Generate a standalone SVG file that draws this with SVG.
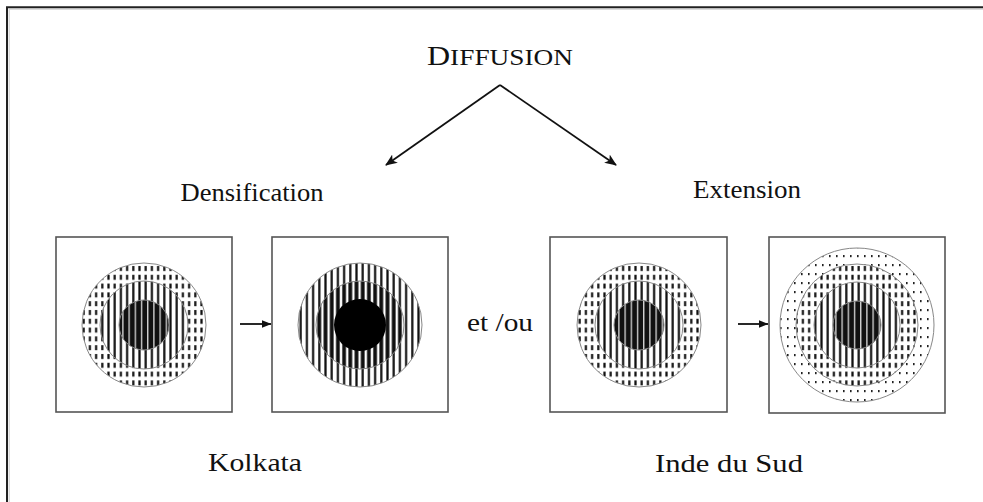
<svg xmlns="http://www.w3.org/2000/svg" width="983" height="502" viewBox="0 0 983 502">
<style>
  .lbl { font-family: "Liberation Serif", "Times New Roman", serif; fill: #111; }
  .box { fill: #fff; stroke: #555; stroke-width: 1.6; }
  .ring { stroke: #888; stroke-width: 1; }
  .conn { stroke: #111; stroke-width: 1.8; fill: none; }
</style>
<defs>
  <pattern id="dash" patternUnits="userSpaceOnUse" x="0" y="0" width="6.2" height="8.8">
    <rect width="6.2" height="8.8" fill="#fff"/>
    <rect x="2" y="2" width="2.2" height="5" fill="#111"/>
  </pattern>
  <pattern id="stripe" patternUnits="userSpaceOnUse" x="0" y="0" width="6.2" height="10">
    <rect width="6.2" height="10" fill="#fff"/>
    <rect x="2" y="0" width="2.2" height="10" fill="#111"/>
  </pattern>
  <pattern id="stripeThick" patternUnits="userSpaceOnUse" x="0" y="0" width="6.2" height="10">
    <rect width="6.2" height="10" fill="#fff"/>
    <rect x="1.2" y="0" width="3.8" height="10" fill="#111"/>
  </pattern>
  <pattern id="blackStripe" patternUnits="userSpaceOnUse" x="0" y="0" width="6.2" height="10">
    <rect width="6.2" height="10" fill="#111"/>
    <rect x="4.6" y="0" width="1.1" height="10" fill="#fff"/>
  </pattern>
  <pattern id="dots" patternUnits="userSpaceOnUse" x="0" y="0" width="7" height="9">
    <rect width="7" height="9" fill="#fff"/>
    <rect x="3" y="3" width="1.6" height="2.2" fill="#222"/>
  </pattern>
  <marker id="head" viewBox="0 0 12 10" refX="11" refY="5" markerWidth="12" markerHeight="10" markerUnits="userSpaceOnUse" orient="auto">
    <path d="M0,0 L12,5 L0,10 L3,5 Z" fill="#111"/>
  </marker>
  <marker id="headS" viewBox="0 0 10 8" refX="9.5" refY="4" markerWidth="10" markerHeight="8" markerUnits="userSpaceOnUse" orient="auto">
    <path d="M0,0 L10,4 L0,8 Z" fill="#111"/>
  </marker>
</defs>

<rect width="983" height="502" fill="#fff"/>
<g id="frame">
  <path d="M9.2,502 V9.2 H983" fill="none" stroke="#ccc" stroke-width="1"/>
  <path d="M7,502 V7.3 H983" fill="none" stroke="#222" stroke-width="2"/>
</g>

<g id="title">
  <text class="lbl" x="500" y="65" font-size="27" text-anchor="middle" textLength="146" lengthAdjust="spacingAndGlyphs">D<tspan font-size="23">IFFUSION</tspan></text>
</g>

<g id="label-densification">
  <text class="lbl" x="252" y="201" font-size="25" text-anchor="middle" textLength="143" lengthAdjust="spacingAndGlyphs">Densification</text>
</g>
<g id="label-extension">
  <text class="lbl" x="747" y="198" font-size="25" text-anchor="middle" textLength="108" lengthAdjust="spacingAndGlyphs">Extension</text>
</g>
<g id="label-etou">
  <text class="lbl" x="500" y="331" font-size="25" text-anchor="middle" textLength="66" lengthAdjust="spacingAndGlyphs">et /ou</text>
</g>
<g id="label-kolkata">
  <text class="lbl" x="255" y="471" font-size="25" text-anchor="middle" textLength="94" lengthAdjust="spacingAndGlyphs">Kolkata</text>
</g>
<g id="label-inde">
  <text class="lbl" x="729" y="472" font-size="25" text-anchor="middle" textLength="148" lengthAdjust="spacingAndGlyphs">Inde du Sud</text>
</g>

<g id="box1">
  <rect class="box" x="56" y="237" width="176" height="175"/>
  <circle class="ring" cx="144" cy="325" r="62" fill="url(#dash)"/>
  <circle class="ring" cx="144" cy="325" r="44" fill="url(#stripe)"/>
  <circle class="ring" cx="144" cy="325" r="25" fill="url(#blackStripe)"/>
</g>

<g id="box2">
  <rect class="box" x="272" y="237" width="176" height="175"/>
  <circle class="ring" cx="360" cy="325" r="62" fill="url(#stripe)"/>
  <circle class="ring" cx="360" cy="325" r="44" fill="url(#stripeThick)"/>
  <circle cx="360" cy="325" r="26" fill="#000"/>
</g>

<g id="box3">
  <rect class="box" x="550" y="237" width="177" height="175"/>
  <circle class="ring" cx="639" cy="325" r="62" fill="url(#dash)"/>
  <circle class="ring" cx="639" cy="325" r="44" fill="url(#stripe)"/>
  <circle class="ring" cx="639" cy="325" r="25" fill="url(#blackStripe)"/>
</g>

<g id="box4">
  <rect class="box" x="769" y="237" width="176" height="176"/>
  <circle class="ring" cx="857" cy="325" r="77" fill="url(#dots)"/>
  <circle class="ring" cx="857" cy="325" r="61" fill="url(#dash)"/>
  <circle class="ring" cx="857" cy="325" r="43" fill="url(#stripe)"/>
  <circle class="ring" cx="857" cy="325" r="24" fill="url(#blackStripe)"/>
</g>

<g id="connectors">
  <path class="conn" d="M500,85 L386,165" marker-end="url(#head)"/>
  <path class="conn" d="M500,85 L616,165" marker-end="url(#head)"/>
  <path class="conn" d="M240,324 L271,324" marker-end="url(#headS)"/>
  <path class="conn" d="M738,324 L768,324" marker-end="url(#headS)"/>
</g>
</svg>
